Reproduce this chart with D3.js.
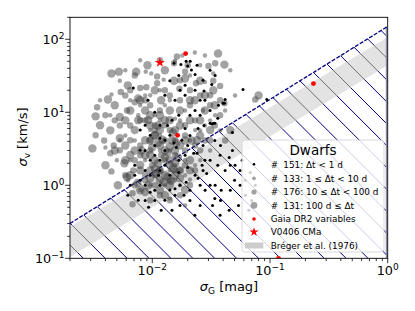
<!DOCTYPE html>
<html><head><meta charset="utf-8">
<script src="https://cdn.jsdelivr.net/npm/d3@7"></script>
<style>body{margin:0;background:#fff}svg{display:block;font-family:"DejaVu Sans",sans-serif}</style>
</head><body><svg id="c" width="415" height="311"></svg>
<script>
// ---- data ----
const xDomain = [0.002, 1];
const yDomain = [0.1, 200];
const xTicks = [0.01, 0.1, 1];
const xTickExp = ["\u22122", "\u22121", "0"];
const yTicks = [0.1, 1, 10, 100];
const yTickExp = ["\u22121", "0", "1", "2"];
const boundary = [[0.002, 0.3], [1, 150]];
const bandTop = [[0.002, 0.27], [1, 107]];
const bandBottom = [[0.002, 0.104], [1, 44]];

const dwarfsLt1 = [[0.0153,47],[0.0175,45],[0.0194,50],[0.021,50],[0.020,43],[0.0215,38],[0.0231,33],[0.024,44],[0.0275,19.5],[0.032,24],[0.041,13.3],[0.0069,21.5],[0.059,20.5],[0.094,15],[0.0416,15],[0.040,13.3],[0.036,8.3],[0.034,7.1],[0.032,6.9],[0.0275,6.6],[0.048,5.3],
[0.0147,7.8],[0.0153,3.8],[0.0245,6.0],[0.027,3.5],[0.024,2.75],[0.031,7.1],[0.033,7.1],[0.0209,4.8],[0.019,6.0],[0.0168,9.1],[0.0135,6.6],[0.0116,4.4],[0.0128,3.0],[0.0105,3.5],[0.0096,2.2],[0.0087,1.6],[0.0079,1.17],[0.0096,0.8],[0.0116,1.0],[0.0141,1.37],[0.0128,1.88],[0.0113,1.37],[0.0156,0.9],[0.0186,0.73],[0.0194,1.1],[0.0231,1.37],[0.0255,1.0],[0.0209,0.62],[0.0172,0.53],[0.0141,0.86],[0.0105,0.62],[0.0093,0.5],[0.0119,0.455],
[0.027,1.6],[0.029,1.45],[0.036,1.88],[0.045,2.4],[0.046,1.88],[0.0557,1.6],[0.062,0.73],[0.054,0.53],[0.045,0.455],[0.034,0.66],[0.0385,0.855],[0.031,1.0],[0.068,1.5],[0.058,2.2],[0.048,3.0],[0.038,3.5],[0.034,4.1],[0.028,2.2],[0.050,1.17],[0.075,1.0],[0.066,0.455],[0.0377,0.39],[0.0255,0.53],[0.023,0.39],
[0.0079,5.7],[0.0092,14.6],[0.0105,10],[0.0172,20],[0.0141,27],[0.0255,14.6],[0.0231,10.6],[0.020,3.5],[0.0168,2.2],[0.0071,1.88],[0.0065,1.0],[0.0087,3.0],[0.0116,2.2],
[0.0128,17.1],[0.0156,14.6],[0.019,17.1],[0.0231,20],[0.0209,9.1],[0.0255,9.1],[0.031,10.6],[0.0365,12.5],[0.0178,4.13],[0.016,3.3],[0.0141,4.84],[0.0116,6.63],[0.0096,4.84],[0.0087,6.63],[0.0105,2.58],[0.0128,4.13],[0.0079,3.02],[0.0071,1.37],[0.0087,1.0],[0.0105,0.855],[0.0128,0.623],[0.0156,0.73],[0.0172,1.0],[0.0209,0.855],[0.0168,1.5],[0.020,1.75],[0.0245,1.25],[0.0281,0.855],[0.0325,0.53],[0.038,0.62],[0.046,0.855],[0.0557,1.0],[0.031,2.2],[0.0377,2.58],[0.0416,1.6],[0.0505,1.88],[0.0615,1.17],[0.070,0.62],[0.0342,1.0],[0.0225,2.75],[0.0265,1.88],[0.0062,0.73],[0.0076,0.623],[0.0087,0.62],[0.0147,0.455],[0.019,2.58],[0.0116,1.6],[0.0096,1.37],[0.028,14.6],[0.0168,32],[0.019,23.4],[0.027,27.4],[0.031,37.6],[0.0342,32]];

const dwarfs1to10 = [[0.0045,17.5],[0.0088,36],[0.0098,34],[0.0040,3.3],[0.0125,28],[0.023,66],[0.028,26],[0.033,34],[0.0087,17],[0.0156,51],[0.0209,32],[0.0255,44],[0.046,37.6],[0.0505,17],[0.0416,10.6],[0.0342,9.1],[0.028,6.6],[0.0231,5.7],[0.0156,8.2],[0.0116,7.8],[0.0096,5.7],[0.0071,4.1],[0.0059,4.8],[0.0050,2.2],[0.0062,1.17],[0.0079,0.86],[0.0128,1.0],[0.0172,1.0],[0.0209,1.2],[0.0255,2.2],[0.031,3.0],[0.019,2.2],[0.0156,1.88],[0.0116,3.0],[0.0087,2.2],[0.0105,9.1],[0.0141,3.0],[0.0128,12.5],[0.0065,14.6],[0.0076,9.1],[0.019,10.6],[0.027,10.6],[0.0053,27],[0.019,0.53],[0.0141,0.66],
[0.0079,12.5],[0.0096,17.1],[0.0116,20],[0.0141,14.6],[0.0172,7.76],[0.0209,4.13],[0.0255,5.66],[0.031,7.76],[0.0377,5.66],[0.0156,1.17],[0.0096,1.0],[0.0065,2.2],[0.0053,4.13],[0.0044,9.1],[0.0036,14.6],[0.0059,37.6],[0.0079,51.5],[0.018,60],[0.028,60],[0.0116,4.84],[0.0141,1.6],[0.019,1.37],[0.0231,1.88]];

const dwarfs10to100 = [[0.0034,11.7],[0.0054,19],[0.0071,13.7],[0.0079,21.5],[0.011,31],[0.011,25],[0.0162,58],[0.019,36],[0.0235,25],[0.0061,10.6],[0.0039,4.1],[0.0044,2.75],[0.0047,3.5],[0.0045,1.55],[0.0068,0.78],[0.0069,1.6],[0.0087,1.37],[0.0100,1.88],[0.0119,2.58],[0.0156,2.58],[0.019,3.0],[0.0231,3.5],[0.028,4.1],[0.034,6.6],[0.0377,9.1],[0.031,12.5],[0.0255,17],[0.0209,12.5],[0.0172,14.6],[0.0141,17],[0.0116,10.6],[0.0096,12.5],[0.0079,7.8],[0.0065,6.6],[0.0053,6.6],[0.0105,6.6],[0.0141,5.7],[0.019,4.8],[0.0128,4.1],[0.0096,3.0],[0.0079,3.5],[0.0071,2.2],[0.0116,1.6],[0.0141,1.17],[0.0105,1.0],[0.0172,1.6],[0.0231,1.6],[0.0342,47],[0.030,43],[0.033,27],[0.0377,23],[0.041,13.3],[0.075,15],[0.0153,47],[0.020,44],[0.0128,20],[0.0089,22],[0.017,21],[0.0059,17],[0.0416,4.1],
[0.0087,7.76],[0.0105,5.66],[0.0128,6.63],[0.0156,4.13],[0.019,6.63],[0.0231,7.76],[0.0096,4.13],[0.0079,2.58],[0.0065,4.13],[0.0053,3.02],[0.0059,1.37],[0.0071,1.0],[0.0087,1.17],[0.0105,1.37],[0.0128,2.2],[0.0156,1.6],[0.019,1.88],[0.0116,0.73],[0.0141,0.623],[0.0096,0.623],[0.0048,7.76],[0.0040,9.1],[0.0033,4.84],[0.0071,32],[0.0116,51.5],[0.0172,27.4],[0.0209,20],[0.0087,14.6],[0.0065,20],[0.031,17.1],[0.0377,14.6],[0.0255,3.02],[0.031,4.13],[0.0068,0.55],[0.0172,0.73],[0.0209,1.0]];

const dwarfsGe100 = [[0.0045,34],[0.0052,36],[0.0073,36],[0.0042,15],[0.019,29],[0.0153,27],[0.041,45],[0.0362,64],[0.033,20],[0.0033,8.8],[0.0053,8.6],[0.0053,4.4],[0.0058,2.0],[0.0061,1.29],[0.0075,1.08],[0.0081,3.0],[0.0096,4.1],[0.0092,7.8],[0.0116,5.7],[0.0141,10.6],[0.0119,14.6],[0.0209,7.8],[0.0255,4.8],[0.031,5.7],[0.0172,3.5],[0.0128,3.0],[0.0105,2.2],[0.0141,1.9],[0.0096,1.6],[0.0116,1.17],[0.0156,1.37],[0.0079,1.9],[0.0065,2.6],[0.0071,5.7],[0.0087,10.6],[0.0105,20],[0.023,14.6],[0.028,10.6],[0.046,5.7],[0.08,17],[0.019,0.86],[0.0128,0.73],[0.0087,0.81],[0.0209,2.2],[0.0172,6.6],[0.0059,3.5],[0.0048,3.0],[0.0079,14.6],[0.0128,7.8],[0.0215,4.1],[0.0147,4.1],[0.0112,3.8],[0.0093,1.0],[0.0255,27],
[0.0105,4.8],[0.0128,2.4],[0.0141,3.4],[0.0116,1.6],[0.0156,2.0],[0.0096,2.6],[0.0135,1.3],[0.0172,1.6],[0.0112,6.6],[0.0150,5.3],
[0.0065,10.6],[0.0076,7.8],[0.0096,6.6],[0.0116,9.1],[0.0141,7.8],[0.0172,10.6],[0.0209,14.6],[0.0156,5.7],[0.019,4.1],[0.0105,4.84],[0.0087,4.13],[0.0071,3.0],[0.0059,2.2],[0.0079,1.6],[0.0096,1.25],[0.0116,0.86],[0.0141,1.0],[0.0172,1.25],[0.0209,1.6],[0.0128,1.37],[0.0105,1.7],[0.0087,2.58],[0.0116,3.53],[0.0156,3.0],[0.0065,1.37],[0.0051,1.0],[0.0044,5.66],[0.0036,6.63],[0.0040,1.88],[0.0059,7.76],[0.0062,23.4],[0.0091,44],[0.0128,37.6],[0.0255,7.76],[0.028,17.1],[0.034,12.5],[0.024,4.13],[0.0079,0.855],[0.0141,2.2],[0.0096,9.1],[0.0076,15.5],[0.0048,12.5],[0.0031,3.2],
[0.0112,2.0],[0.0135,2.8],[0.0150,1.7],[0.0122,4.2],[0.0100,3.3],[0.0145,1.15],[0.0165,2.4],[0.0125,1.1],[0.0108,1.45],[0.0160,3.8]];

const gaiaVariables = [[0.0192,63.7],[0.0164,4.84],[0.234,24.7],[0.118,0.1]];
const v0406 = [[0.0116,48]];

const legendTitle = "Dwarfs";
const legendCounts = ["151: \u0394t < 1 d", "133: 1 \u2264 \u0394t < 10 d", "176: 10 \u2264 \u0394t < 100 d", "131: 100 d \u2264 \u0394t"];
const legendOther = ["Gaia DR2 variables", "V0406 CMa", "Br\u00e9ger et al. (1976)"];

// ---- layout ----
const L = 70, R = 387.7, T = 17.3, B = 258.3;
const svg = d3.select("#c");
svg.append("rect").attr("width",415).attr("height",311).attr("fill","#fff");
const x = d3.scaleLog().domain(xDomain).range([L, R]);
const y = d3.scaleLog().domain(yDomain).range([B, T]);

const defs = svg.append("defs");
defs.append("clipPath").attr("id","plotclip").append("rect").attr("x",L).attr("y",T).attr("width",R-L).attr("height",B-T);
const hatchPoly = [[x(boundary[0][0]), y(boundary[0][1])],[x(boundary[1][0]), y(boundary[1][1])],[R,B],[L,B]];
defs.append("clipPath").attr("id","hatchclip").append("polygon").attr("points", hatchPoly.map(p=>p.join(",")).join(" "));
const bandPoly = [[x(bandTop[0][0]),y(bandTop[0][1])],[x(bandTop[1][0]),y(bandTop[1][1])],[x(bandBottom[1][0]),y(bandBottom[1][1])],[x(bandBottom[0][0]),y(bandBottom[0][1])]];
defs.append("clipPath").attr("id","bandclip").append("polygon").attr("points", bandPoly.map(p=>p.join(",")).join(" "));

const plot = svg.append("g").attr("clip-path","url(#plotclip)");

// hatch lines (45 deg, down-right)
const step = 21.9, c0 = 83.3 - B;
const cs = [];
for (let c = c0 - step*30; c < (R - T) + step; c += step) if (c > L - B - step) cs.push(c);
function hatch(g, color) {
  g.selectAll("line").data(cs).join("line")
    .attr("x1", c => T + c).attr("y1", T)
    .attr("x2", c => B + c).attr("y2", B)
    .attr("stroke", color).attr("stroke-width", 1);
}
hatch(plot.append("g").attr("clip-path","url(#hatchclip)"), "#000080");
// band
plot.append("polygon").attr("points", bandPoly.map(p=>p.join(",")).join(" ")).attr("fill","#e3e3e3");
hatch(plot.append("g").attr("clip-path","url(#bandclip)").append("g").attr("clip-path","url(#hatchclip)"), "#6e6e6e");
// right edge of hatched region
plot.append("line").attr("x1",R-1.2).attr("x2",R-1.2).attr("y1",y(boundary[1][1])).attr("y2",B).attr("stroke","#8a8aa8").attr("stroke-width",1.4);
// boundary line
plot.append("line")
  .attr("x1", x(boundary[0][0])).attr("y1", y(boundary[0][1]))
  .attr("x2", x(boundary[1][0])).attr("y2", y(boundary[1][1]))
  .attr("stroke","#000080").attr("stroke-width",1.3).attr("stroke-dasharray","4,1.5");

// scatter
const grayFill = "#3c3c3c", grayOp = 0.48;
function circles(data, r, fill, op) {
  plot.append("g").selectAll("circle").data(data).join("circle")
    .attr("cx", d => x(d[0])).attr("cy", d => y(d[1])).attr("r", r)
    .attr("fill", fill).attr("fill-opacity", op);
}
circles(dwarfs1to10, 2.2, grayFill, grayOp);
circles(dwarfs10to100, 3.2, grayFill, grayOp);
circles(dwarfsGe100, 4.2, grayFill, grayOp);
circles(dwarfsLt1, 1.5, "#000", 1);
circles(gaiaVariables, 2.4, "#ff0000", 1);
const star = d3.symbol().type(d3.symbolStar).size(32);
plot.append("g").selectAll("path").data(v0406).join("path")
  .attr("transform", d => `translate(${x(d[0])},${y(d[1])})`).attr("d", star).attr("fill","#ff0000");

// axes
const minorX = [], minorY = [];
for (let e = -3; e <= 0; e++) for (let m = 2; m <= 9; m++) { const v = m*Math.pow(10,e); if (v >= xDomain[0]-1e-12 && v <= xDomain[1]) minorX.push(v); }
for (let e = -1; e <= 2; e++) for (let m = 2; m <= 9; m++) { const v = m*Math.pow(10,e); if (v <= yDomain[1]+1e-9) minorY.push(v); }
const ax = svg.append("g").attr("stroke","#000").attr("stroke-width",0.8);
ax.selectAll(".mx").data(minorX).join("line").attr("x1",d=>x(d)).attr("x2",d=>x(d)).attr("y1",B).attr("y2",B+2.8);
ax.selectAll(".Mx").data(xTicks).join("line").attr("x1",d=>x(d)).attr("x2",d=>x(d)).attr("y1",B).attr("y2",B+4.9);
ax.selectAll(".my").data(minorY).join("line").attr("y1",d=>y(d)).attr("y2",d=>y(d)).attr("x1",L).attr("x2",L-2.8);
ax.selectAll(".My").data(yTicks).join("line").attr("y1",d=>y(d)).attr("y2",d=>y(d)).attr("x1",L).attr("x2",L-4.9);
svg.append("rect").attr("x",L).attr("y",T).attr("width",R-L).attr("height",B-T).attr("fill","none").attr("stroke","#000").attr("stroke-width",0.9);

const fs = 12.8;
xTicks.forEach((t,i) => {
  const tx = svg.append("text").attr("x", x(t)).attr("y", 275).attr("text-anchor","middle").attr("font-size",fs);
  tx.append("tspan").text("10");
  tx.append("tspan").attr("dy",-5.5).attr("font-size",9).text(xTickExp[i]);
});
yTicks.forEach((t,i) => {
  const ty = svg.append("text").attr("x", 64.5).attr("y", y(t)+5).attr("text-anchor","end").attr("font-size",fs);
  ty.append("tspan").text("10");
  ty.append("tspan").attr("dy",-5.5).attr("font-size",9).text(yTickExp[i]);
});
const xl = svg.append("text").attr("x",229).attr("y",290.5).attr("text-anchor","middle").attr("font-size",13);
xl.append("tspan").attr("font-style","italic").text("\u03c3");
xl.append("tspan").attr("font-size",9).attr("dy",3).text("G");
xl.append("tspan").attr("dy",-3).text(" [mag]");
const yl = svg.append("text").attr("transform","translate(26.5,137) rotate(-90)").attr("text-anchor","middle").attr("font-size",13);
yl.append("tspan").attr("font-style","italic").text("\u03c3");
yl.append("tspan").attr("font-size",9).attr("dy",3).text("v");
yl.append("tspan").attr("dy",-3).text(" [km/s]");

// legend
const lg = svg.append("g");
lg.append("rect").attr("x",242).attr("y",140).attr("width",142).attr("height",112).attr("rx",3)
  .attr("fill","#fff").attr("fill-opacity",0.8).attr("stroke","#d0d0d0").attr("stroke-width",0.8);
lg.append("text").attr("x",313).attr("y",155).attr("text-anchor","middle").attr("font-size",13.5).text(legendTitle);
const rowY = [164.3, 178.3, 192, 205.3, 219, 232, 245.5];
const legR = [1.3, 1.9, 2.6, 3.4];
const lfs = 8.9;
legendCounts.forEach((s,i) => {
  lg.append("circle").attr("cx",254).attr("cy",rowY[i]).attr("r",legR[i])
    .attr("fill", i===0 ? "#000" : grayFill).attr("fill-opacity", i===0 ? 1 : grayOp);
  lg.append("text").attr("x",270.7).attr("y",rowY[i]+3.2).attr("font-size",lfs).text("#");
  lg.append("text").attr("x",283.3).attr("y",rowY[i]+3.2).attr("font-size",lfs).text(s);
});
lg.append("circle").attr("cx",254).attr("cy",rowY[4]).attr("r",1.8).attr("fill","#ff0000");
lg.append("path").attr("transform",`translate(254,${rowY[5]})`).attr("d", d3.symbol().type(d3.symbolStar).size(26)).attr("fill","#ff0000");
lg.append("rect").attr("x",245).attr("y",rowY[6]-3).attr("width",18.3).attr("height",6).attr("fill","#cccccc");
legendOther.forEach((s,i) => {
  lg.append("text").attr("x",270.7).attr("y",rowY[4+i]+3.2).attr("font-size",lfs).text(s);
});
</script></body></html>
